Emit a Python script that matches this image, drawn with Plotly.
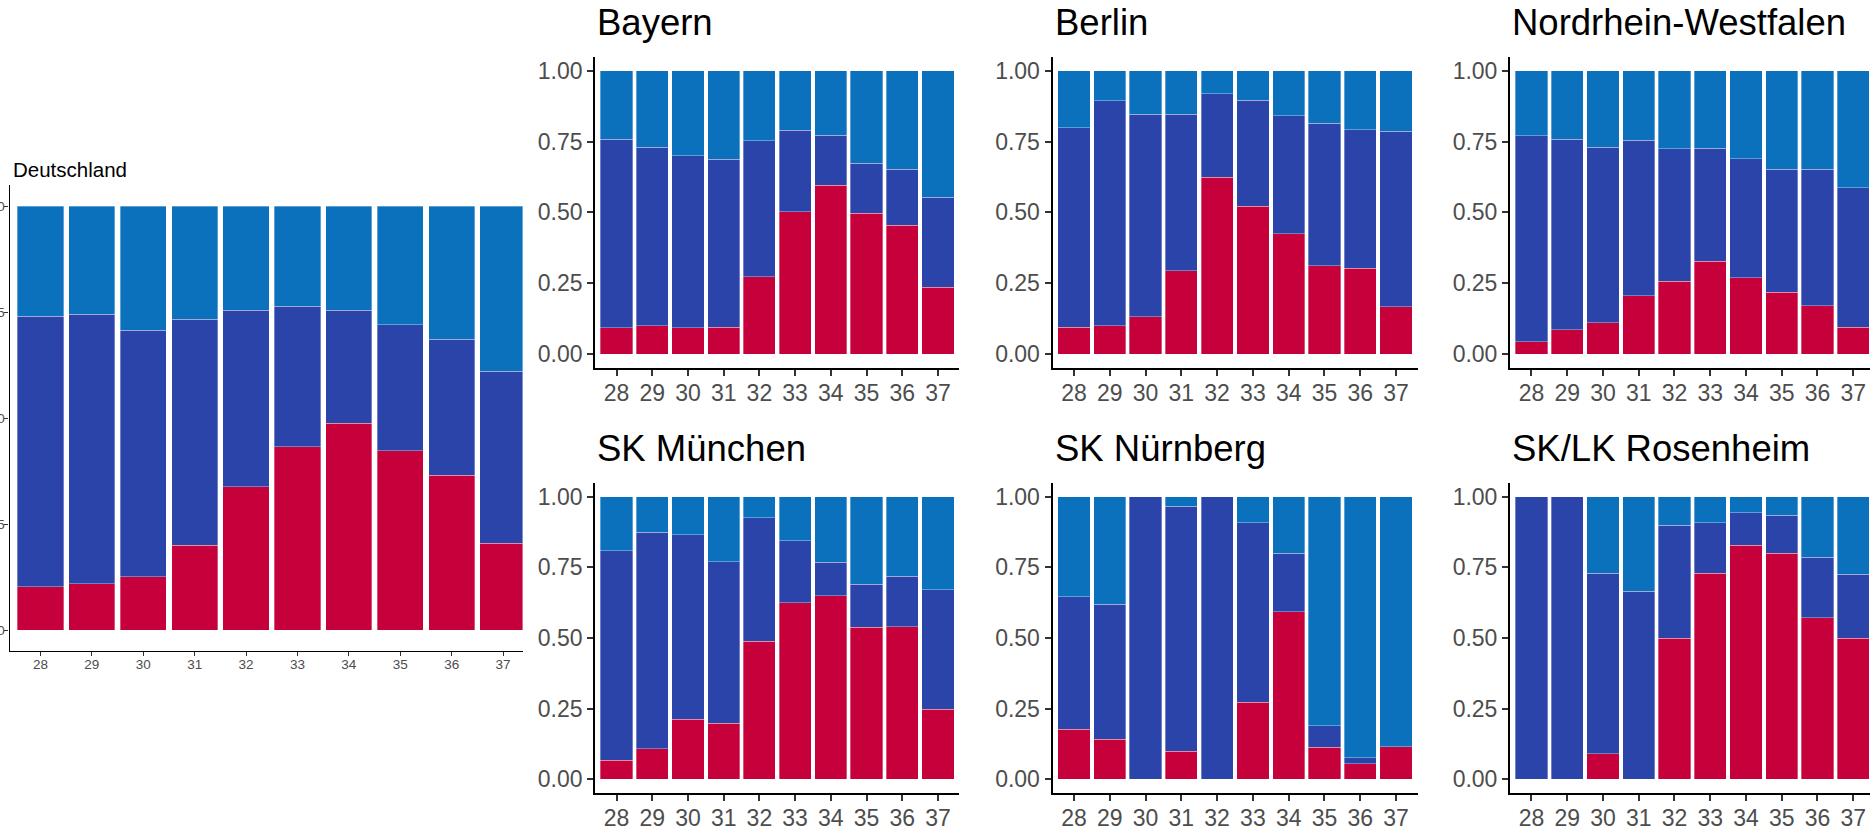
import plotly.graph_objects as go

weeks = ["28", "29", "30", "31", "32", "33", "34", "35", "36", "37"]
ytick_vals = [0, 0.25, 0.5, 0.75, 1.0]
ytick_text = ["0.00", "0.25", "0.50", "0.75", "1.00"]

# shares per calendar week: red (bottom), dark blue (middle), light blue (top)
deutschland_red = [0.102, 0.109, 0.126, 0.200, 0.338, 0.432, 0.488, 0.423, 0.365, 0.205]
deutschland_dark = [0.638, 0.636, 0.581, 0.534, 0.417, 0.332, 0.267, 0.298, 0.321, 0.406]
deutschland_light = [0.260, 0.255, 0.293, 0.266, 0.245, 0.236, 0.245, 0.279, 0.314, 0.389]

bayern_red = [0.093, 0.100, 0.093, 0.095, 0.273, 0.502, 0.596, 0.496, 0.455, 0.235]
bayern_dark = [0.665, 0.629, 0.606, 0.593, 0.480, 0.287, 0.176, 0.177, 0.198, 0.319]
bayern_light = [0.242, 0.271, 0.301, 0.312, 0.247, 0.211, 0.228, 0.327, 0.347, 0.446]

berlin_red = [0.095, 0.099, 0.132, 0.294, 0.624, 0.522, 0.425, 0.312, 0.302, 0.167]
berlin_dark = [0.704, 0.795, 0.714, 0.553, 0.295, 0.374, 0.416, 0.502, 0.490, 0.620]
berlin_light = [0.201, 0.106, 0.154, 0.153, 0.081, 0.104, 0.159, 0.186, 0.208, 0.213]

nrw_red = [0.044, 0.086, 0.111, 0.206, 0.256, 0.328, 0.269, 0.218, 0.171, 0.094]
nrw_dark = [0.727, 0.672, 0.618, 0.549, 0.468, 0.399, 0.420, 0.434, 0.482, 0.493]
nrw_light = [0.229, 0.242, 0.271, 0.245, 0.276, 0.273, 0.311, 0.348, 0.347, 0.413]

muenchen_red = [0.068, 0.108, 0.212, 0.199, 0.488, 0.625, 0.650, 0.538, 0.540, 0.248]
muenchen_dark = [0.740, 0.766, 0.654, 0.571, 0.437, 0.219, 0.119, 0.153, 0.178, 0.423]
muenchen_light = [0.192, 0.126, 0.134, 0.230, 0.075, 0.156, 0.231, 0.309, 0.282, 0.329]

nuernberg_red = [0.177, 0.142, 0.0, 0.099, 0.0, 0.272, 0.593, 0.113, 0.055, 0.116]
nuernberg_dark = [0.469, 0.478, 1.0, 0.868, 1.0, 0.636, 0.207, 0.077, 0.022, 0.0]
nuernberg_light = [0.354, 0.380, 0.0, 0.033, 0.0, 0.092, 0.200, 0.810, 0.923, 0.884]

rosenheim_red = [0.0, 0.0, 0.090, 0.0, 0.500, 0.729, 0.828, 0.800, 0.572, 0.500]
rosenheim_dark = [1.0, 1.0, 0.639, 0.666, 0.399, 0.179, 0.115, 0.134, 0.213, 0.226]
rosenheim_light = [0.0, 0.0, 0.271, 0.334, 0.101, 0.092, 0.057, 0.066, 0.215, 0.274]

COL_RED = "#C5003A"
COL_DARK = "#2B44A9"
COL_LIGHT = "#0C71BD"

W, H = 1870, 831
FONT = "Liberation Sans, Arial, sans-serif"


def xdom(a, b):
    return [max(0, a / W), min(1, b / W)]


def ydom(top, bottom):
    return [1 - bottom / H, 1 - top / H]


# panel: title, data, x px domain, x range max, y px domain (top,bottom), big?
panels = [
    ("Deutschland", deutschland_red, deutschland_dark, deutschland_light, (9.6, 522.6), 9.38, (185.1, 651.2), False),
    ("Bayern", bayern_red, bayern_dark, bayern_light, (595.1, 959.4), 9.6, (56.5, 368.2), True),
    ("Berlin", berlin_red, berlin_dark, berlin_light, (1052.5, 1417.5), 9.6, (56.5, 368.2), True),
    ("Nordrhein-Westfalen", nrw_red, nrw_dark, nrw_light, (1510.0, 1870.0), 9.47, (56.5, 368.2), True),
    ("SK München", muenchen_red, muenchen_dark, muenchen_light, (595.1, 959.4), 9.6, (482.6, 793.4), True),
    ("SK Nürnberg", nuernberg_red, nuernberg_dark, nuernberg_light, (1052.5, 1417.5), 9.6, (482.6, 793.4), True),
    ("SK/LK Rosenheim", rosenheim_red, rosenheim_dark, rosenheim_light, (1510.0, 1870.0), 9.47, (482.6, 793.4), True),
]

fig = go.Figure()
annotations = []
layout = {}
for i, (title, red, dark, light, xpx, xmax, ypx, big) in enumerate(panels):
    idx = "" if i == 0 else str(i + 1)
    xa, ya = "x" + idx, "y" + idx
    for vals, col in ((red, COL_RED), (dark, COL_DARK), (light, COL_LIGHT)):
        fig.add_trace(go.Bar(
            x=weeks, y=vals, xaxis=xa, yaxis=ya,
            marker=dict(color=col, line=dict(color="rgba(255,255,255,0.55)", width=0.6)),
            showlegend=False, hoverinfo="skip",
        ))
    tick_size = 23 if big else 13.5
    lw = 2 if big else 1.3
    tlen = 6 if big else 4
    layout["xaxis" + idx] = dict(
        domain=xdom(*xpx), anchor=ya, type="category", categoryorder="array",
        categoryarray=weeks, range=[-0.6, xmax], showgrid=False, zeroline=False,
        showline=True, linecolor="black", linewidth=lw, ticks="outside",
        ticklen=tlen, tickwidth=lw, tickcolor="#333333", automargin=False,
        ticklabelstandoff=-3 if big else -4,
        tickfont=dict(family=FONT, size=tick_size, color="#4D4D4D"), fixedrange=True,
    )
    layout["yaxis" + idx] = dict(
        domain=ydom(*ypx), anchor=xa, range=[-0.05, 1.05], showgrid=False,
        zeroline=False, showline=True, linecolor="black", linewidth=lw,
        ticks="outside", ticklen=tlen, tickwidth=lw, tickcolor="#333333",
        tickvals=ytick_vals, ticktext=ytick_text, automargin=False,
        ticklabelstandoff=0 if big else -3,
        tickfont=dict(family=FONT, size=tick_size, color="#4D4D4D"), fixedrange=True,
    )
    if big:
        ty = ypx[0] - 34
        annotations.append(dict(
            text=title, xref="paper", yref="paper", x=xpx[0] / W, y=1 - ty / H,
            xanchor="left", yanchor="middle", showarrow=False,
            font=dict(family=FONT, size=36.5, color="black"),
        ))
    else:
        ty = ypx[0] - 16
        annotations.append(dict(
            text=title, xref="paper", yref="paper", x=11 / W, y=1 - ty / H,
            xanchor="left", yanchor="middle", showarrow=False,
            font=dict(family=FONT, size=20.5, color="black"),
        ))

fig.update_layout(
    width=W, height=H, barmode="stack", bargap=0.1,
    margin=dict(l=0, r=0, t=0, b=0, autoexpand=False),
    paper_bgcolor="white", plot_bgcolor="white",
    annotations=annotations, **layout,
)

fig.write_html(
    "out.html",
    config={"displayModeBar": False},
    post_script="document.body.style.margin='0';document.body.style.overflow='hidden';",
)
